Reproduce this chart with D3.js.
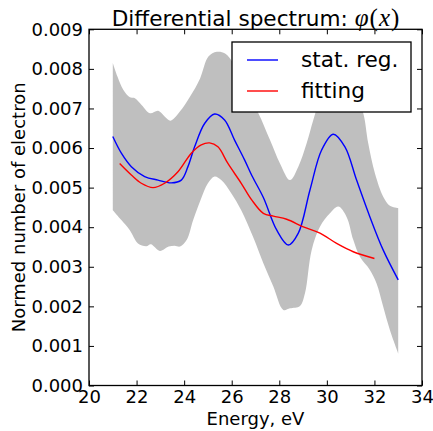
<!DOCTYPE html>
<html>
<head>
<meta charset="utf-8">
<script src="https://cdn.jsdelivr.net/npm/d3@7"></script>
<style>
  body { margin: 0; background: #fff; }
  svg { display: block; font-family: "DejaVu Sans", sans-serif; }
</style>
</head>
<body>
<script>
// band of the statistical regularization (upper / lower edge)
const bandUpX = [21.0, 21.2, 21.44, 21.72, 21.93, 22.21, 22.56, 22.91, 23.19, 23.43, 23.82, 24.25, 24.67, 25.02, 25.37, 25.72, 26.07, 26.35, 26.7, 27.12, 27.61, 28.03, 28.45, 28.8, 29.15, 29.43, 29.75, 30.1, 30.5, 30.9, 31.25, 31.53, 31.74, 32.02, 32.37, 32.65, 33.0];
const bandUpY = [0.00815, 0.0078, 0.00747, 0.00728, 0.00726, 0.00709, 0.00688, 0.00694, 0.00679, 0.00669, 0.00692, 0.0073, 0.00776, 0.00831, 0.00843, 0.00839, 0.00814, 0.00775, 0.0073, 0.00688, 0.0062, 0.00561, 0.00519, 0.00553, 0.00612, 0.00671, 0.0073, 0.0077, 0.0078, 0.0076, 0.0073, 0.00688, 0.00612, 0.00536, 0.00477, 0.00454, 0.00448];
const bandLoX = [21.0, 21.36, 21.71, 22.06, 22.41, 22.6, 22.98, 23.35, 23.6, 23.83, 24.11, 24.38, 24.69, 25.0, 25.28, 25.56, 25.98, 26.4, 26.9, 27.33, 27.75, 28.17, 28.45, 28.87, 29.08, 29.36, 29.71, 30.13, 30.48, 30.83, 31.11, 31.39, 31.81, 32.09, 32.37, 32.65, 33.0];
const bandLoY = [0.00443, 0.00418, 0.00393, 0.00359, 0.00352, 0.00357, 0.0034, 0.00351, 0.00353, 0.00351, 0.00368, 0.00418, 0.00469, 0.00511, 0.00528, 0.00519, 0.00486, 0.00443, 0.00375, 0.00309, 0.0025, 0.00191, 0.00195, 0.00201, 0.00233, 0.00342, 0.00401, 0.00435, 0.00452, 0.00426, 0.00368, 0.00325, 0.00292, 0.00258, 0.00199, 0.0014, 0.00081];

// stat. reg.
const statX = [21.0, 21.36, 21.78, 22.34, 22.9, 23.46, 23.88, 24.16, 24.44, 24.86, 25.28, 25.7, 26.12, 26.54, 26.85, 27.33, 27.89, 28.38, 28.8, 29.29, 29.78, 30.27, 30.76, 31.25, 31.81, 32.37, 33.0];
const statY = [0.00629, 0.00587, 0.00553, 0.00528, 0.00519, 0.00512, 0.00519, 0.00553, 0.00603, 0.00662, 0.00686, 0.00671, 0.0062, 0.0057, 0.0053, 0.00475, 0.00393, 0.00355, 0.00385, 0.00494, 0.00595, 0.00635, 0.00603, 0.00519, 0.00426, 0.00342, 0.00267];

// fitting
const fitX = [21.29, 21.78, 22.2, 22.69, 23.18, 23.74, 24.3, 24.72, 25.07, 25.42, 25.84, 26.4, 26.84, 27.33, 27.75, 28.31, 29.01, 29.71, 30.41, 31.11, 32.0];
const fitY = [0.00561, 0.00532, 0.00511, 0.005, 0.00511, 0.0054, 0.00587, 0.00608, 0.00613, 0.00603, 0.00561, 0.00511, 0.00469, 0.00435, 0.00428, 0.0042, 0.00401, 0.00385, 0.00359, 0.00338, 0.00321];

const xTicks = [20, 22, 24, 26, 28, 30, 32, 34];
const yTicks = [0, 0.001, 0.002, 0.003, 0.004, 0.005, 0.006, 0.007, 0.008, 0.009];
const legendNames = ["stat. reg.", "fitting"];
const legendColors = ["#0000ff", "#ff0000"];

const W = 433, H = 431;
const mLeft = 89, mRight = 422, mTop = 29.3, mBottom = 385.5;

const x = d3.scaleLinear().domain([20, 34]).range([mLeft, mRight]);
const y = d3.scaleLinear().domain([0, 0.009]).range([mBottom, mTop]);

const svg = d3.select("body").append("svg").attr("width", W).attr("height", H);
svg.append("rect").attr("width", W).attr("height", H).attr("fill", "#fff");

const zip = (xs, ys) => xs.map((v, i) => [v, ys[i]]);
const line = d3.line().x(d => x(d[0])).y(d => y(d[1])).curve(d3.curveCatmullRom.alpha(0.5));

// band
const up = line(zip(bandUpX, bandUpY));
const lo = line(zip(bandLoX, bandLoY).reverse());
svg.append("path")
  .attr("d", up + "L" + lo.slice(1) + "Z")
  .attr("fill", "#bfbfbf")
  .attr("stroke", "none");

svg.append("path").attr("d", line(zip(statX, statY)))
  .attr("fill", "none").attr("stroke", "#0000ff").attr("stroke-width", 1.4);
svg.append("path").attr("d", line(zip(fitX, fitY)))
  .attr("fill", "none").attr("stroke", "#ff0000").attr("stroke-width", 1.4);

// axes frame + inward ticks on all sides
const tl = 5;
const ax = svg.append("g");
ax.append("g").attr("transform", `translate(0,${mBottom})`)
  .call(d3.axisBottom(x).tickValues(xTicks).tickSize(-tl).tickPadding(5).tickFormat(d3.format("d")));
ax.append("g").attr("transform", `translate(0,${mTop})`)
  .call(d3.axisTop(x).tickValues(xTicks).tickSize(-tl).tickFormat(""));
ax.append("g").attr("transform", `translate(${mLeft},0)`)
  .call(d3.axisLeft(y).tickValues(yTicks).tickSize(-tl).tickPadding(6).tickFormat(d3.format(".3f")));
ax.append("g").attr("transform", `translate(${mRight},0)`)
  .call(d3.axisRight(y).tickValues(yTicks).tickSize(-tl).tickFormat(""));
ax.selectAll(".domain").remove();
ax.selectAll(".tick line").attr("stroke", "#000").attr("stroke-width", 1);
ax.selectAll(".tick text").attr("font-size", 18).attr("font-family", "DejaVu Sans").attr("fill", "#000");

svg.append("rect")
  .attr("x", mLeft).attr("y", mTop).attr("width", mRight - mLeft).attr("height", mBottom - mTop)
  .attr("fill", "none").attr("stroke", "#000").attr("stroke-width", 1.3);

// legend
const lg = svg.append("g");
lg.append("rect").attr("x", 232).attr("y", 42).attr("width", 179).attr("height", 70)
  .attr("fill", "#fff").attr("stroke", "#000").attr("stroke-width", 1.3);
legendNames.forEach((n, i) => {
  const ly = 60 + i * 31;
  lg.append("line").attr("x1", 247).attr("x2", 278).attr("y1", ly).attr("y2", ly)
    .attr("stroke", legendColors[i]).attr("stroke-width", 1.4);
  lg.append("text").attr("x", 301).attr("y", ly + 7).attr("font-size", 21.6).text(n);
});

// title
const t = svg.append("text").attr("x", (mLeft + mRight) / 2).attr("y", 26)
  .attr("text-anchor", "middle").attr("font-size", 21.6);
t.append("tspan").text("Differential spectrum: ");
const mathFont = "Liberation Serif";
t.append("tspan").attr("font-family", mathFont).attr("font-size", 25).attr("font-style", "italic").text("φ");
t.append("tspan").attr("font-family", mathFont).attr("font-size", 25).attr("dx", 1).text("(");
t.append("tspan").attr("font-family", mathFont).attr("font-size", 25).attr("font-style", "italic").attr("dx", 1).text("x");
t.append("tspan").attr("font-family", mathFont).attr("font-size", 25).attr("dx", 1).text(")");

// axis labels
svg.append("text").attr("x", (mLeft + mRight) / 2).attr("y", 425)
  .attr("text-anchor", "middle").attr("font-size", 18).text("Energy, eV");
svg.append("text").attr("transform", `translate(25,${(mTop + mBottom) / 2}) rotate(-90)`)
  .attr("text-anchor", "middle").attr("font-size", 18).text("Normed number of electron");
</script>
</body>
</html>
